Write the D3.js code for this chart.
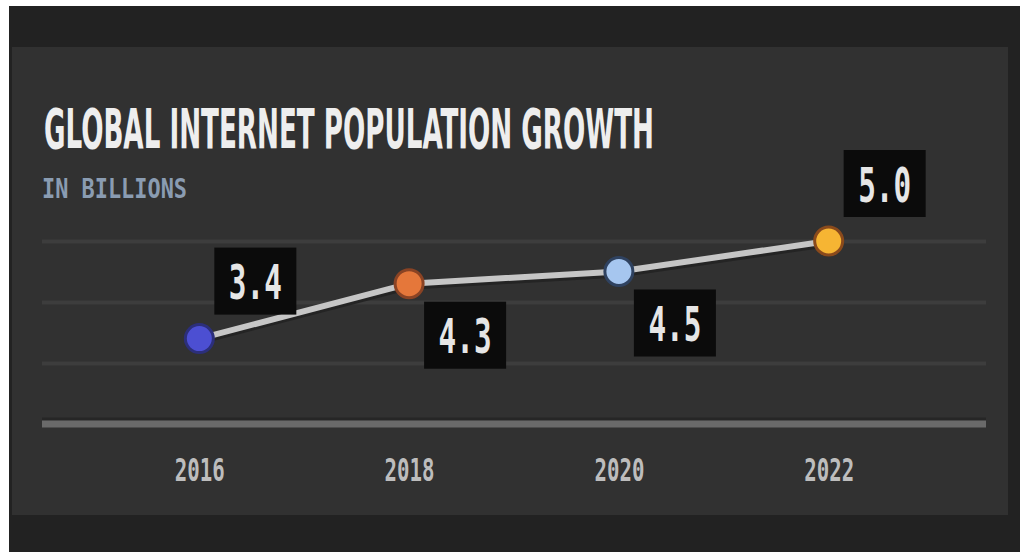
<!DOCTYPE html>
<html>
<head>
<meta charset="utf-8">
<script src="https://cdn.jsdelivr.net/npm/d3@7"></script>
<style>
  body { margin: 0; background: #fff; }
  svg { display: block; }
</style>
</head>
<body>
<div id="chart"></div>
<script>
// data
const years = ["2016", "2018", "2020", "2022"];
const users = [3.4, 4.3, 4.5, 5.0];
const valueLabels = ["3.4", "4.3", "4.5", "5.0"];
const gridValues = [3, 4, 5];

const dotColors = ["#4c4fd2", "#e5773a", "#a6c6ef", "#f6b533"];
const ringColors = ["#2c2f7a", "#8a4324", "#2f4260", "#8a4a1c"];
const labelSide = ["above", "below", "below", "above"];

const W = 1020, H = 552;

const svg = d3.select("#chart")
    .append("svg")
    .attr("width", W)
    .attr("height", H);

// backgrounds
svg.append("rect")
    .attr("x", 9).attr("y", 6)
    .attr("width", W - 9).attr("height", H - 6)
    .attr("fill", "#222222");
svg.append("rect")
    .attr("x", 12).attr("y", 47)
    .attr("width", 996).attr("height", 468)
    .attr("fill", "#313131");

// title (smaller font stretched up, so the text stays inside the page)
svg.append("text")
    .attr("transform", "translate(44,148) scale(1,1.4)")
    .attr("textLength", 610)
    .attr("lengthAdjust", "spacingAndGlyphs")
    .style("font-family", "'DejaVu Sans Condensed', 'DejaVu Sans', sans-serif")
    .style("font-weight", "bold")
    .style("font-size", "40px")
    .attr("fill", "#eeeeee")
    .text("GLOBAL INTERNET POPULATION GROWTH");

svg.append("text")
    .attr("x", 42).attr("y", 198)
    .attr("textLength", 145)
    .attr("lengthAdjust", "spacingAndGlyphs")
    .style("font-family", "'DejaVu Sans Mono', monospace")
    .style("font-weight", "bold")
    .style("font-size", "27px")
    .attr("fill", "#8a9cb2")
    .text("IN BILLIONS");

// scales
const x = d3.scalePoint()
    .domain(years)
    .range([42, 986])
    .padding(0.75);

const y = d3.scaleLinear()
    .domain([2, 5])
    .range([424, 241]);

// gridlines
const grid = svg.append("g")
    .attr("transform", "translate(42,0)")
    .call(d3.axisLeft(y).tickValues(gridValues).tickSize(-944).tickFormat(""));
grid.select(".domain").remove();
grid.selectAll(".tick line")
    .attr("stroke", "#3d3d3d")
    .attr("stroke-width", 4);

// base axis line
svg.append("line")
    .attr("x1", 42).attr("x2", 986)
    .attr("y1", y(2) - 5).attr("y2", y(2) - 5)
    .attr("stroke", "#262626")
    .attr("stroke-width", 3);
svg.append("line")
    .attr("x1", 42).attr("x2", 986)
    .attr("y1", y(2)).attr("y2", y(2))
    .attr("stroke", "#6a6a6a")
    .attr("stroke-width", 7);

// year labels
const xAxis = svg.append("g")
    .attr("transform", "translate(0," + y(2) + ")")
    .call(d3.axisBottom(x).tickSize(0).tickPadding(34));
xAxis.select(".domain").remove();
xAxis.selectAll("text")
    .attr("textLength", 50)
    .attr("lengthAdjust", "spacingAndGlyphs")
    .style("font-family", "'DejaVu Sans Mono', monospace")
    .style("font-weight", "bold")
    .style("font-size", "32px")
    .attr("fill", "#bdbdbd");

const pts = years.map((yr, i) => ({ year: yr, v: users[i], i: i }));

// line with a soft shadow
const line = d3.line()
    .x(d => x(d.year))
    .y(d => y(d.v));

svg.append("path")
    .datum(pts)
    .attr("d", line)
    .attr("transform", "translate(0,4)")
    .attr("fill", "none")
    .attr("stroke", "#242424")
    .attr("stroke-width", 4);
svg.append("path")
    .datum(pts)
    .attr("d", line)
    .attr("fill", "none")
    .attr("stroke", "#c6c6c6")
    .attr("stroke-width", 6);

// dots
svg.append("g")
    .selectAll("circle")
    .data(pts)
    .enter()
    .append("circle")
    .attr("cx", d => x(d.year))
    .attr("cy", d => y(d.v))
    .attr("r", 14)
    .attr("fill", d => dotColors[d.i])
    .attr("stroke", d => ringColors[d.i])
    .attr("stroke-width", 3);

// value labels in black boxes
const boxW = 82, boxH = 67;
const labels = svg.append("g")
    .selectAll("g")
    .data(pts)
    .enter()
    .append("g")
    .attr("transform", function(d) {
        const bx = x(d.year) + 15;
        const by = labelSide[d.i] === "above" ? y(d.v) - 24 - boxH : y(d.v) + 18;
        return "translate(" + bx + "," + by + ")";
    });

labels.append("rect")
    .attr("width", boxW)
    .attr("height", boxH)
    .attr("fill", "#0b0b0b");

labels.append("text")
    .attr("x", boxW / 2)
    .attr("y", boxH / 2 + 18)
    .attr("text-anchor", "middle")
    .attr("textLength", 53)
    .attr("lengthAdjust", "spacingAndGlyphs")
    .style("font-family", "'DejaVu Sans Mono', monospace")
    .style("font-weight", "bold")
    .style("font-size", "48px")
    .attr("fill", "#e6e6e6")
    .text((d) => valueLabels[d.i]);
</script>
</body>
</html>
